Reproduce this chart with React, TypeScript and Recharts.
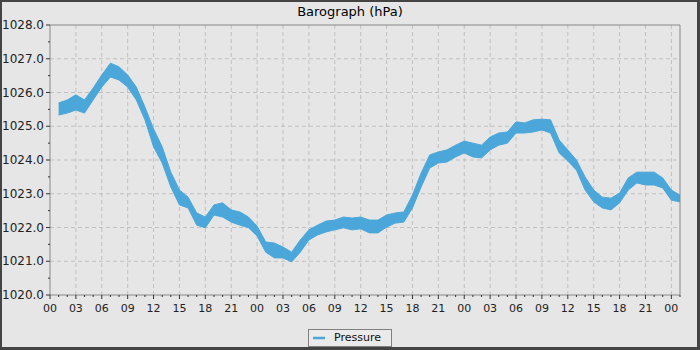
import React from 'react';
import { ComposedChart, Area, XAxis, YAxis, CartesianGrid, ReferenceLine, Legend } from 'recharts';

const FONT = '"DejaVu Sans", Verdana, sans-serif';

// hours since the first midnight
const hours = [
  1, 2, 3, 4, 5, 6, 7, 8, 9, 10,
  11, 12, 13, 14, 15, 16, 17, 18, 19, 20,
  21, 22, 23, 24, 25, 26, 27, 28, 29, 30,
  31, 32, 33, 34, 35, 36, 37, 38, 39, 40,
  41, 42, 43, 44, 45, 46, 47, 48, 49, 50,
  51, 52, 53, 54, 55, 56, 57, 58, 59, 60,
  61, 62, 63, 64, 65, 66, 67, 68, 69, 70,
  71, 72, 73,
];

// top of the noisy pressure trace (hPa)
const pressureHigh = [
  1025.69, 1025.78, 1025.93, 1025.78, 1026.13, 1026.52, 1026.87, 1026.76, 1026.52, 1026.16,
  1025.57, 1024.92, 1024.39, 1023.64, 1023.11, 1022.9, 1022.43, 1022.31, 1022.67, 1022.73,
  1022.52, 1022.46, 1022.31, 1022.04, 1021.57, 1021.54, 1021.42, 1021.27, 1021.63, 1021.93,
  1022.07, 1022.19, 1022.22, 1022.31, 1022.28, 1022.31, 1022.22, 1022.22, 1022.37, 1022.43,
  1022.46, 1022.96, 1023.61, 1024.15, 1024.24, 1024.3, 1024.44, 1024.56, 1024.5, 1024.44,
  1024.68, 1024.8, 1024.83, 1025.13, 1025.1, 1025.19, 1025.21, 1025.19, 1024.59, 1024.3,
  1024.0, 1023.5, 1023.11, 1022.9, 1022.87, 1023.02, 1023.47, 1023.64, 1023.64, 1023.64,
  1023.47, 1023.11, 1022.96,
];

// bottom of the noisy pressure trace (hPa)
const pressureLow = [
  1025.33, 1025.39, 1025.48, 1025.39, 1025.78, 1026.16, 1026.46, 1026.37, 1026.16, 1025.78,
  1025.19, 1024.39, 1023.91, 1023.2, 1022.67, 1022.58, 1022.07, 1021.99, 1022.37, 1022.31,
  1022.16, 1022.07, 1021.99, 1021.75, 1021.27, 1021.1, 1021.1, 1020.98, 1021.27, 1021.63,
  1021.78, 1021.87, 1021.93, 1021.99, 1021.93, 1021.96, 1021.84, 1021.84, 1022.01, 1022.13,
  1022.16, 1022.58, 1023.2, 1023.76, 1023.91, 1023.94, 1024.09, 1024.21, 1024.09, 1024.06,
  1024.3, 1024.44, 1024.5, 1024.8, 1024.8, 1024.83, 1024.89, 1024.8, 1024.21, 1023.97,
  1023.7, 1023.11, 1022.76, 1022.58, 1022.52, 1022.73, 1023.11, 1023.32, 1023.26, 1023.26,
  1023.17, 1022.81, 1022.76,
];

const xTicks = [
  0, 1, 2, 3, 4, 5, 6, 7, 8, 9, 10, 11, 12, 13, 14, 15, 16, 17, 18, 19, 20, 21, 22, 23, 24,
  25, 26, 27, 28, 29, 30, 31, 32, 33, 34, 35, 36, 37, 38, 39, 40, 41, 42, 43, 44, 45, 46, 47, 48,
  49, 50, 51, 52, 53, 54, 55, 56, 57, 58, 59, 60, 61, 62, 63, 64, 65, 66, 67, 68, 69, 70, 71, 72, 73,
];
const xGrid = [3, 6, 9, 12, 15, 18, 21, 24, 27, 30, 33, 36, 39, 42, 45, 48, 51, 54, 57, 60, 63, 66, 69, 72];
const yTicks = [
  1020, 1020.5, 1021, 1021.5, 1022, 1022.5, 1023, 1023.5, 1024, 1024.5,
  1025, 1025.5, 1026, 1026.5, 1027, 1027.5, 1028,
];
const yGrid = [1021, 1022, 1023, 1024, 1025, 1026, 1027];

const rows = hours.map((h, i) => ({ h, band: [pressureLow[i], pressureHigh[i]] }));

const BLUE = '#4ba7d9';

const XTick = (props: any) => {
  const { x, y, payload } = props;
  const v = payload.value as number;
  const major = v % 3 === 0;
  return (
    <g>
      <line x1={x} x2={x} y1={y} y2={y + (major ? 4 : 2)} stroke="#333" strokeWidth={1} />
      {major && (
        <text x={x} y={y + 17} textAnchor="middle" fontSize={11} fill="#222" fontFamily={FONT}>
          {String(v % 24).padStart(2, '0')}
        </text>
      )}
    </g>
  );
};

const YTick = (props: any) => {
  const { x, y, payload } = props;
  const v = payload.value as number;
  const major = Number.isInteger(v);
  return (
    <g>
      <line x1={x - (major ? 4 : 2)} x2={x} y1={y} y2={y} stroke="#333" strokeWidth={1} />
      {major && (
        <text x={x - 6} y={y + 4} textAnchor="end" fontSize={12} fill="#222" fontFamily={FONT}>
          {v.toFixed(1)}
        </text>
      )}
    </g>
  );
};

const LegendBox = (props: any) => {
  const item = props.payload && props.payload[0];
  return (
    <div style={{ display: 'flex', justifyContent: 'center', width: 700 }}>
      <div
        style={{
          boxSizing: 'border-box',
          height: 18,
          width: 84,
          border: '1px solid #808080',
          background: '#eaeaea',
          display: 'flex',
          alignItems: 'center',
          paddingLeft: 4,
          fontFamily: FONT,
          fontSize: 11,
          color: '#111',
        }}
      >
        <svg width={12} height={4} style={{ display: 'block' }}>
          <line x1={0} x2={12} y1={2} y2={2} stroke={BLUE} strokeWidth={2.5} />
        </svg>
        <span style={{ marginLeft: 9, lineHeight: '16px' }}>{item ? item.value : 'Pressure'}</span>
      </div>
    </div>
  );
};

export default function App() {
  return (
    <div style={{ position: 'absolute', left: 0, top: 0, width: 700, height: 350, background: '#e6e6e6', fontFamily: FONT }}>
      <div
        style={{
          position: 'absolute',
          top: 3,
          left: 0,
          width: 700,
          textAlign: 'center',
          fontSize: 13,
          lineHeight: '18px',
          color: '#000',
        }}
      >
        Barograph (hPa)
      </div>
      <ComposedChart width={700} height={350} data={rows} margin={{ top: 25, right: 20, bottom: 17, left: 0 }}>
        <CartesianGrid
          stroke="#c0c0c0"
          strokeDasharray="4 3"
          horizontalValues={yGrid}
          verticalValues={xGrid}
        />
        <XAxis
          dataKey="h"
          type="number"
          domain={[0, 73]}
          ticks={xTicks}
          interval={0}
          tickSize={0}
          tickMargin={0}
          tickLine={false}
          tick={<XTick />}
          axisLine={{ stroke: '#888' }}
          height={20}
          allowDataOverflow
        />
        <YAxis
          type="number"
          domain={[1020, 1028]}
          ticks={yTicks}
          interval={0}
          tickSize={0}
          tickMargin={0}
          tickLine={false}
          tick={<YTick />}
          axisLine={{ stroke: '#888' }}
          width={50}
          allowDataOverflow
        />
        <Area
          dataKey="band"
          name="Pressure"
          type="linear"
          stroke={BLUE}
          strokeWidth={1}
          fill={BLUE}
          fillOpacity={1}
          dot={false}
          activeDot={false}
          legendType="line"
          isAnimationActive={false}
        />
        <ReferenceLine y={1028} stroke="#888" />
        <ReferenceLine x={73} stroke="#888" />
        <Legend
          verticalAlign="bottom"
          content={<LegendBox />}
          wrapperStyle={{ position: 'absolute', left: 0, top: 329, width: 700, height: 18 }}
        />
      </ComposedChart>
      <div
        style={{
          position: 'absolute',
          left: 0,
          top: 0,
          width: 700,
          height: 350,
          boxSizing: 'border-box',
          borderTop: '2px solid #444',
          borderLeft: '2px solid #444',
          borderRight: '3px solid #444',
          borderBottom: '3px solid #444',
          pointerEvents: 'none',
        }}
      />
    </div>
  );
}
